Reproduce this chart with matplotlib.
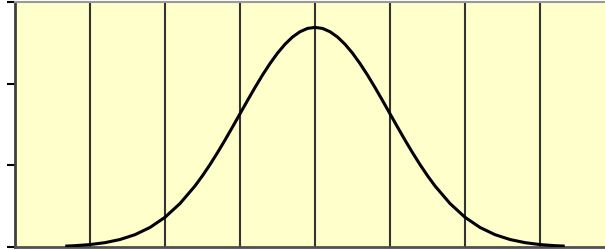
import matplotlib
matplotlib.use("Agg")
import matplotlib.pyplot as plt

# data (bell curve)
z_values = [-3.33, -3.2, -3.0, -2.8, -2.6, -2.4, -2.2, -2.0, -1.8, -1.6, -1.5, -1.4, -1.3,
            -1.2, -1.1, -1.0, -0.9, -0.8, -0.7, -0.6, -0.5, -0.4, -0.3, -0.2, -0.1, 0.0,
            0.1, 0.2, 0.3, 0.4, 0.5, 0.6, 0.7, 0.8, 0.9, 1.0, 1.1, 1.2, 1.3, 1.4, 1.5,
            1.6, 1.8, 2.0, 2.2, 2.4, 2.6, 2.8, 3.0, 3.2, 3.33]
density = [0.0016, 0.0024, 0.0044, 0.0079, 0.0136, 0.0224, 0.0355, 0.0540, 0.0790,
           0.1109, 0.1295, 0.1497, 0.1714, 0.1942, 0.2179, 0.2420, 0.2661, 0.2897,
           0.3123, 0.3332, 0.3521, 0.3683, 0.3814, 0.3910, 0.3970, 0.3989,
           0.3970, 0.3910, 0.3814, 0.3683, 0.3521, 0.3332, 0.3123, 0.2897, 0.2661,
           0.2420, 0.2179, 0.1942, 0.1714, 0.1497, 0.1295, 0.1109, 0.0790,
           0.0540, 0.0355, 0.0224, 0.0136, 0.0079, 0.0044, 0.0024, 0.0016]
grid_x = [-3, -2, -1, 0, 1, 2, 3]
y_ticks = [0.0, 0.1483, 0.2967, 0.445]

W, H = 605, 250
fig = plt.figure(figsize=(W / 100, H / 100), dpi=100)
fig.patch.set_facecolor("white")
ax = fig.add_axes([15 / W, 3 / H, (W - 15) / W, 245 / H])
ax.set_facecolor("#FFFFCC")

for gx in grid_x:
    ax.axvline(gx, color="#333333", lw=1.5, zorder=1)

ax.plot(z_values, density, color="black", lw=2.2, zorder=3, solid_capstyle="butt",
        solid_joinstyle="round")

ax.set_xlim(-4, -4 + (W - 15) / 75)
ax.set_ylim(0, 0.445)
ax.set_yticks(y_ticks)
ax.set_yticklabels([])
ax.set_xticks([])
ax.tick_params(axis="y", direction="out", length=6, width=1.5, color="black")

ax.spines["left"].set_color("#404040")
ax.spines["left"].set_linewidth(2)
ax.spines["bottom"].set_color("#505050")
ax.spines["bottom"].set_linewidth(2)
ax.spines["top"].set_color("#999999")
ax.spines["top"].set_linewidth(1.5)
ax.spines["right"].set_visible(False)

fig.savefig("out.png", dpi=100, facecolor="white")
